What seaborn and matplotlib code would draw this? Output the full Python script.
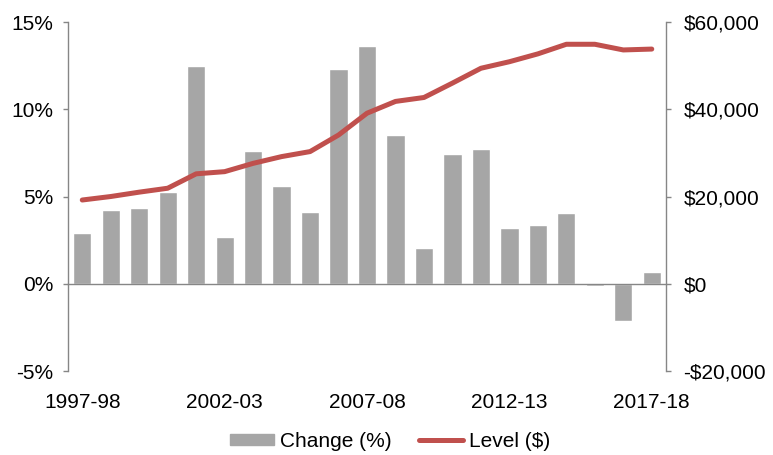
import numpy as np
import pandas as pd
import matplotlib
matplotlib.use('Agg')
import matplotlib.pyplot as plt
import seaborn as sns
from matplotlib.patches import Patch
from matplotlib.lines import Line2D
from matplotlib.ticker import FuncFormatter

# data
years = ['1997-98', '1998-99', '1999-00', '2000-01', '2001-02', '2002-03', '2003-04',
         '2004-05', '2005-06', '2006-07', '2007-08', '2008-09', '2009-10', '2010-11',
         '2011-12', '2012-13', '2013-14', '2014-15', '2015-16', '2016-17', '2017-18']
change_pct = [2.9, 4.2, 4.35, 5.25, 12.5, 2.7, 7.6, 5.6, 4.1, 12.3, 13.6,
              8.5, 2.05, 7.45, 7.75, 3.2, 3.35, 4.05, -0.1, -2.15, 0.7]
level_usd = [19200, 20000, 21000, 21900, 25200, 25700, 27600, 29150, 30300, 34100, 39100,
             41800, 42700, 46000, 49400, 50900, 52700, 54900, 54900, 53600, 53800]

df = pd.DataFrame({'year': years, 'change': change_pct, 'level': level_usd})
df['pos'] = np.arange(len(df))

sns.set_style('white')
plt.rcParams['font.family'] = ['Liberation Sans', 'DejaVu Sans']
plt.rcParams['font.size'] = 15
plt.rcParams['text.color'] = 'black'

bar_col = '#A6A6A6'
line_col = '#C0504D'
axis_col = '#868686'
fs = 15

fig = plt.figure(figsize=(7.73, 4.55), dpi=100)
ax = fig.add_axes([0.088, 0.1846, 0.7736, 0.767])

sns.barplot(data=df, x='pos', y='change', color=bar_col, width=0.64,
            saturation=1, ax=ax, native_scale=True)
ax.set_xlim(-0.5, len(df) - 0.5)
ax.set_ylim(-5, 15)
ax.set_yticks([-5, 0, 5, 10, 15])
ax.yaxis.set_major_formatter(FuncFormatter(lambda v, p: f'{v:.0f}%'))

ax2 = ax.twinx()
sns.lineplot(data=df, x='pos', y='level', color=line_col, lw=3.6, ax=ax2,
             solid_capstyle='round')
ax2.set_ylim(-20000, 60000)
ax2.set_yticks([-20000, 0, 20000, 40000, 60000])
ax2.yaxis.set_major_formatter(FuncFormatter(
    lambda v, p: f'-${abs(v):,.0f}' if v < 0 else f'${v:,.0f}'))

# x axis: zero line with category boundary ticks, labels every 5 years
ax.spines['bottom'].set_position(('data', 0))
ax.set_xticks(df['pos'][::5])
ax.set_xticklabels(df['year'][::5])
ax.set_xticks(df['pos'][:-1] + 0.5, minor=True)
ax.tick_params(axis='x', which='major', length=0, pad=79, labelsize=fs, labelcolor='black')
ax.tick_params(axis='x', which='minor', length=4, width=1, color=axis_col, direction='out')
ax.tick_params(axis='y', length=3.5, width=1, color=axis_col, direction='out',
               labelsize=fs, pad=7, labelcolor='black')
ax2.tick_params(axis='y', length=3.5, width=1, color=axis_col, direction='out',
                labelsize=fs, pad=9, labelcolor='black')

for a in (ax, ax2):
    a.set_xlabel('')
    a.set_ylabel('')
    a.spines['top'].set_visible(False)
    for s in ('left', 'right', 'bottom'):
        a.spines[s].set_color(axis_col)
        a.spines[s].set_linewidth(1)
ax2.spines['bottom'].set_visible(False)
ax.spines['right'].set_visible(False)
ax2.spines['left'].set_visible(False)

handles = [Patch(color=bar_col, label='Change (%)'),
           Line2D([0], [0], color=line_col, lw=3.6, label='Level ($)')]
fig.legend(handles=handles, loc='center', bbox_to_anchor=(0.505, 0.03), ncol=2,
           frameon=False, fontsize=fs, handlelength=2.1, handleheight=0.4,
           handletextpad=0.3, columnspacing=1.3, borderpad=0.2, labelcolor='black')

fig.savefig('out.png', dpi=100)
